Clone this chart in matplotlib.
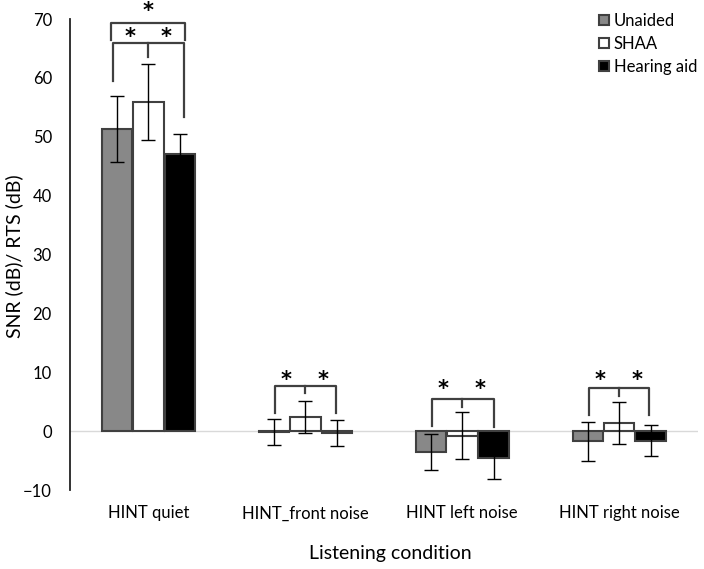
import matplotlib
matplotlib.use("Agg")
import matplotlib.pyplot as plt
import numpy as np

plt.rcParams['font.family'] = ['Lato', 'DejaVu Sans']

# data
conditions = ["HINT quiet", "HINT_front noise", "HINT left noise", "HINT right noise"]
groups = ["Unaided", "SHAA", "Hearing aid"]
unaided = [51.3, -0.2, -3.5, -1.7]
unaided_err = [5.6, 2.2, 3.1, 3.3]
shaa = [55.9, 2.4, -0.8, 1.45]
shaa_err = [6.4, 2.7, 4.0, 3.55]
hearing_aid = [47.0, -0.3, -4.5, -1.6]
hearing_aid_err = [3.4, 2.2, 3.7, 2.7]

# significance brackets: (category, left leg, right leg, bar level, leg ends, centre tick end)
brackets = [
    (0, -0.225, 0.229, 66.0, (59.5, 53.4), 63.6),
    (1, -0.196, 0.197, 7.6, (3.0, 3.0), 6.4),
    (2, -0.193, 0.200, 5.4, (0.9, 0.7), 4.1),
    (3, -0.195, 0.193, 7.25, (2.7, 2.7), 5.9),
]
star_level = [67.7, 9.5, 7.9, 9.5]

fig = plt.figure(figsize=(7.04, 5.69), dpi=100)
ax = fig.add_axes([0.0994, 0.1388, 0.8916, 0.8278])

x = np.arange(len(conditions))
w = 0.2
edge = "#404040"
series = [
    (unaided, unaided_err, "#888888"),
    (shaa, shaa_err, "white"),
    (hearing_aid, hearing_aid_err, "black"),
]
handles = []
for i, (vals, errs, col) in enumerate(series):
    b = ax.bar(x + (i - 1) * w, vals, w * 0.97, color=col, edgecolor=edge,
               linewidth=1.5, zorder=2, label=groups[i])
    ax.errorbar(x + (i - 1) * w, vals, yerr=errs, fmt="none", ecolor="black",
                elinewidth=1, capsize=5, capthick=1, zorder=3)
    handles.append(b)

ax.axhline(0, color="#d9d9d9", linewidth=1, zorder=1)

star_kw = dict(ha="center", va="center", fontsize=15, fontweight="bold",
               family="DejaVu Sans", clip_on=False)
drop = 0.8  # asterisk glyph sits high in its box

# brackets and stars
for cat, l, r, lev, legs, mid in brackets:
    ax.plot([cat + l, cat + l, cat + r, cat + r], [legs[0], lev, lev, legs[1]],
            color=edge, linewidth=1.6, zorder=4)
    ax.plot([cat, cat], [lev, mid], color=edge, linewidth=1.6, zorder=4)
    ax.text(cat - 0.12, star_level[cat] - drop, "*", **star_kw)
    ax.text(cat + 0.115, star_level[cat] - drop, "*", **star_kw)

# outer bracket over HINT quiet
ax.plot([-0.238, -0.238, 0.231, 0.231], [66.4, 69.3, 69.3, 66.4],
        color=edge, linewidth=1.6, zorder=4, clip_on=False)
ax.text(0, 72.1 - drop, "*", **star_kw)

ax.set_xlim(-0.5, 3.5)
ax.set_ylim(-10, 70)
ax.set_yticks(np.arange(-10, 71, 10))
ax.set_xticks(x)
ax.set_xticklabels(conditions)
ax.tick_params(axis="both", length=0, labelsize=12, colors="black")
ax.tick_params(axis="y", pad=13)
ax.tick_params(axis="x", pad=11)
for s in ["top", "right", "bottom"]:
    ax.spines[s].set_visible(False)
ax.spines["left"].set_color("#222222")
ax.spines["left"].set_linewidth(1.3)

fig.text(390 / 704, 1 - 553 / 569, "Listening condition", ha="center",
         va="center", fontsize=14)
fig.text(14 / 704, 1 - 256 / 569, "SNR (dB)/ RTS (dB)", rotation=90,
         ha="center", va="center", fontsize=14)

leg = ax.legend(handles=handles, loc="upper left",
                bbox_to_anchor=(599 / 704, 1 - 13 / 569),
                bbox_transform=fig.transFigure, frameon=False, fontsize=12,
                handlelength=0.6, handleheight=0.6, handletextpad=0.3,
                labelspacing=0.42, borderpad=0, borderaxespad=0)

fig.savefig("out.png", dpi=100)
